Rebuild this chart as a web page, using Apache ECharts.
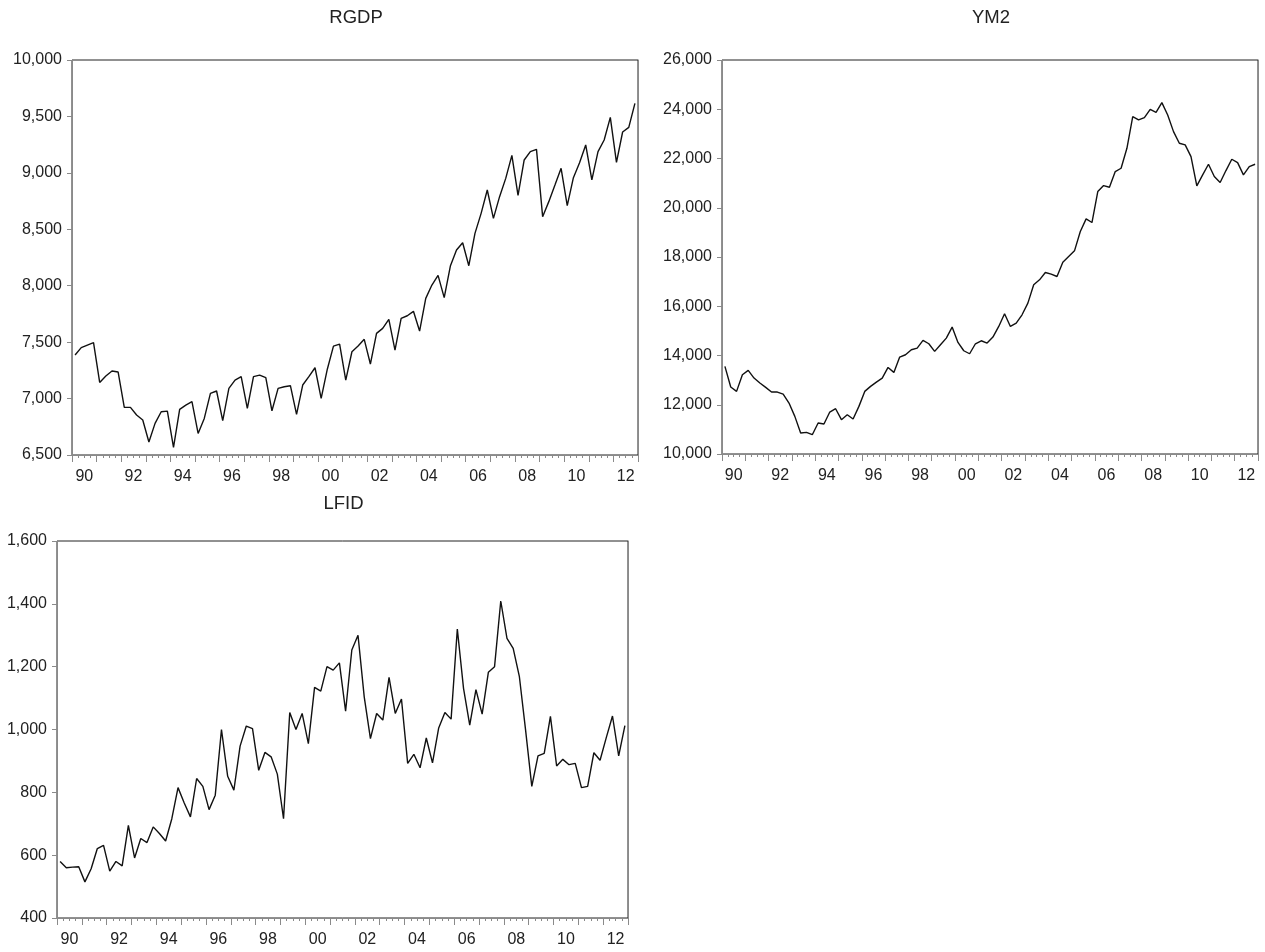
<!DOCTYPE html>
<html><head><meta charset="utf-8">
<script src="https://cdn.jsdelivr.net/npm/echarts@6/dist/echarts.min.js"></script>
<style>html,body{margin:0;padding:0;background:#fff}#c{width:1265px;height:952px}</style>
</head><body><div id="c"></div>
<script>
const years = [1990,1991,1992,1993,1994,1995,1996,1997,1998,1999,2000,2001,2002,2003,2004,2005,2006,2007,2008,2009,2010,2011,2012];
const quarterNames = ['Q1','Q2','Q3','Q4'];
const quarters = years.flatMap(y => quarterNames.map(q => y + q));

const rgdp = [7386,7451,7474,7495,7143,7200,7244,7235,6922,6922,6854,6810,6615,6780,6883,6889,
  6567,6904,6942,6972,6691,6824,7046,7067,6804,7090,7164,7194,6913,7194,7208,7185,
  6892,7090,7105,7114,6860,7120,7194,7273,7002,7260,7465,7483,7164,7415,7465,7525,
  7306,7578,7622,7702,7430,7711,7734,7773,7598,7888,8006,8092,7894,8174,8316,8381,
  8177,8464,8641,8848,8597,8789,8951,9155,8801,9114,9188,9208,8612,8745,8892,9040,
  8709,8957,9090,9247,8937,9188,9291,9492,9093,9362,9403,9616];

const ym2 = [13557,12719,12543,13219,13395,13084,12881,12705,12516,12516,12434,12069,11528,10852,10879,10784,
  11258,11217,11704,11839,11393,11596,11420,11934,12543,12746,12921,13084,13516,13314,13936,14030,
  14233,14301,14612,14477,14166,14436,14707,15153,14531,14193,14071,14477,14598,14504,14747,15180,
  15694,15180,15315,15653,16127,16871,17073,17371,17304,17209,17790,18020,18250,19035,19549,19400,
  20658,20901,20833,21469,21604,22416,23701,23565,23660,23998,23877,24269,23768,23092,22619,22552,
  22078,20888,21334,21767,21266,21023,21510,21970,21834,21334,21672,21767];

const lfid = [580,560,562,563,515,557,621,631,549,580,566,695,591,653,640,690,
  669,645,716,815,766,722,844,819,745,791,1000,851,807,947,1011,1003,
  870,927,913,858,716,1054,1000,1051,955,1134,1122,1200,1189,1212,1058,1253,
  1300,1104,971,1051,1030,1166,1051,1097,892,921,878,973,894,1005,1054,1033,
  1320,1131,1014,1127,1049,1182,1200,1409,1290,1258,1168,998,819,916,924,1042,
  884,905,888,892,815,819,926,902,974,1043,916,1012];

const panels = [
  {name:'RGDP', data:rgdp, min:6500, max:10000, interval:500, titleTop:3, grid:{left:72, top:60, width:566, height:395}},
  {name:'YM2', data:ym2, min:10000, max:26000, interval:2000, titleTop:3, grid:{left:722, top:60, width:536, height:394}},
  {name:'LFID', data:lfid, min:400, max:1600, interval:200, titleTop:489, grid:{left:57, top:541, width:571, height:377}}
];

const FONT = "'Liberation Sans', Arial, sans-serif";
const AXIS_GRAY = '#8a8a8a';
const TEXT = '#222';

const option = {
  animation:false,
  backgroundColor:'#fff',
  title: panels.map(p => ({
    text:p.name,
    left:p.grid.left + p.grid.width/2 - 4,
    top:p.titleTop,
    textAlign:'center',
    textStyle:{fontFamily:FONT, fontSize:18.5, fontWeight:'normal', color:TEXT}
  })),
  grid: panels.map(p => Object.assign({show:true, borderColor:'#222', borderWidth:1, backgroundColor:'#fff', containLabel:false}, p.grid)),
  xAxis: [],
  yAxis: [],
  series: []
};

panels.forEach((p, g) => {
  option.xAxis.push({
    type:'category', gridIndex:g, data:quarters, boundaryGap:true, position:'bottom',
    axisLine:{show:true, lineStyle:{color:AXIS_GRAY, width:1}},
    axisTick:{show:true, interval:0, length:3, lineStyle:{color:AXIS_GRAY}},
    axisLabel:{show:false}, splitLine:{show:false}
  });
  option.xAxis.push({
    type:'category', gridIndex:g, data:years, boundaryGap:true, position:'bottom',
    axisLine:{show:false},
    axisTick:{show:true, interval:0, length:7, lineStyle:{color:AXIS_GRAY}},
    axisLabel:{show:true, interval:1, margin:14, fontFamily:FONT, fontSize:16, color:TEXT,
      formatter:v => String(v).slice(2)},
    splitLine:{show:false}
  });
  option.yAxis.push({
    type:'value', gridIndex:g, min:p.min, max:p.max, interval:p.interval, position:'left',
    axisLine:{show:true, lineStyle:{color:AXIS_GRAY, width:1}},
    axisTick:{show:true, length:5, lineStyle:{color:AXIS_GRAY}},
    axisLabel:{margin:10, fontFamily:FONT, fontSize:16, color:TEXT,
      formatter:v => v.toLocaleString('en-US')},
    splitLine:{show:false}
  });
  option.yAxis.push({
    type:'value', gridIndex:g, min:0, max:1, position:'right',
    axisLine:{show:true, lineStyle:{color:AXIS_GRAY, width:1}},
    axisTick:{show:false}, axisLabel:{show:false}, splitLine:{show:false}
  });
  option.series.push({
    type:'line', xAxisIndex:2*g, yAxisIndex:2*g, data:p.data,
    symbol:'none', lineStyle:{color:'#111', width:1.4}, z:3
  });
});

const chart = echarts.init(document.getElementById('c'));
chart.setOption(option);
</script></body></html>
